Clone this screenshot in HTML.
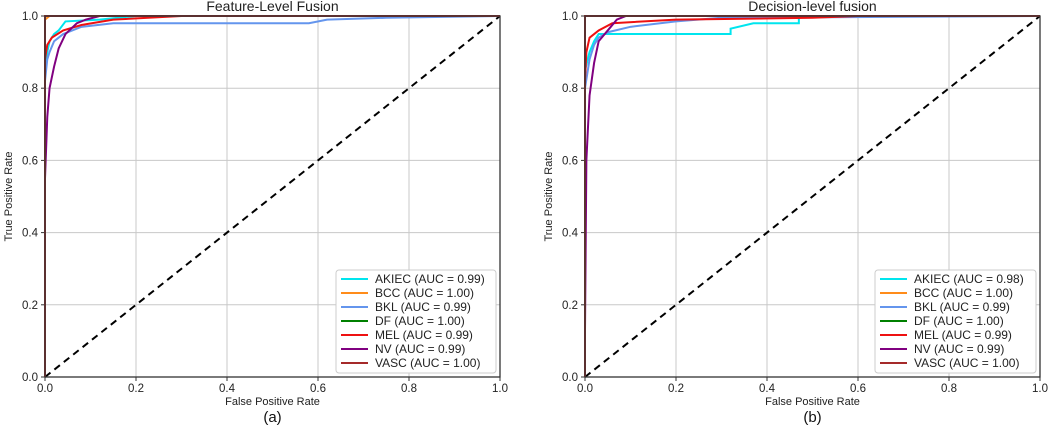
<!DOCTYPE html>
<html><head><meta charset="utf-8"><style>
body{margin:0;background:#fff;width:1049px;height:430px;overflow:hidden;font-family:"Liberation Sans",sans-serif}
svg text{font-family:"Liberation Sans",sans-serif}
</style></head><body>
<svg id="chart" width="1049" height="430" xmlns="http://www.w3.org/2000/svg"></svg>
<script>
const ticks=[0,0.2,0.4,0.6,0.8,1.0];
const tickLabels=["0.0","0.2","0.4","0.6","0.8","1.0"];
const classes=["AKIEC","BCC","BKL","DF","MEL","NV","VASC"];
const colors=["#00e5ee","#ff8c1a","#6495ed","#008000","#ee1111","#800080","#a52a2a"];
const aucA=["0.99","1.00","0.99","1.00","0.99","0.99","1.00"];
const aucB=["0.98","1.00","0.99","1.00","0.99","0.99","1.00"];
// curves [fpr,tpr]
const curvesA=[
 [[0,0],[0,0.85],[0.005,0.9],[0.01,0.93],[0.02,0.95],[0.03,0.96],[0.045,0.985],[0.12,0.99],[0.2,1],[1,1]],
 [[0,0],[0,0.99],[0.01,1],[1,1]],
 [[0,0],[0,0.82],[0.005,0.88],[0.01,0.9],[0.02,0.93],[0.04,0.95],[0.08,0.97],[0.15,0.98],[0.58,0.98],[0.62,0.99],[0.75,0.995],[1,1]],
 [[0,0],[0,1],[1,1]],
 [[0,0],[0,0.88],[0.005,0.92],[0.015,0.94],[0.04,0.96],[0.08,0.975],[0.15,0.99],[0.3,1],[1,1]],
 [[0,0],[0,0.55],[0.005,0.72],[0.01,0.8],[0.02,0.86],[0.03,0.91],[0.045,0.95],[0.07,0.98],[0.09,0.99],[0.12,1],[1,1]],
 [[0,0],[0,1],[1,1]]
];
const curvesB=[
 [[0,0],[0,0.85],[0.01,0.9],[0.02,0.93],[0.03,0.95],[0.32,0.95],[0.32,0.965],[0.37,0.98],[0.47,0.98],[0.47,1],[1,1]],
 [[0,0],[0,1],[1,1]],
 [[0,0],[0,0.8],[0.01,0.88],[0.02,0.92],[0.03,0.94],[0.05,0.955],[0.1,0.97],[0.2,0.985],[0.3,0.995],[1,1]],
 [[0,0],[0,1],[1,1]],
 [[0,0],[0,0.82],[0.003,0.9],[0.01,0.94],[0.03,0.96],[0.06,0.98],[0.2,0.99],[0.5,0.995],[0.6,1],[1,1]],
 [[0,0],[0,0.13],[0.003,0.6],[0.01,0.78],[0.02,0.87],[0.03,0.93],[0.05,0.96],[0.07,0.99],[0.09,1],[1,1]],
 [[0,0],[0,1],[1,1]]
];
const NS="http://www.w3.org/2000/svg";
const svg=document.getElementById('chart');
function mk(tag,attrs,parent){const e=document.createElementNS(NS,tag);for(const k in attrs)e.setAttribute(k,attrs[k]);(parent||svg).appendChild(e);return e;}
function panel(x0,x1,y0,y1,title,curves,aucs,lx,lw,tag,sub){
 const g=mk('g',{});
 
 
 const X=v=>x0+v*(x1-x0), Y=v=>y0-v*(y0-y1);
 ticks.forEach((t,i)=>{
  const gx=mk('line',{x1:X(t),x2:X(t),y1:y1,y2:y0,stroke:'#c8c8c8','stroke-width':1},g);
  
  const gy=mk('line',{x1:x0,x2:x1,y1:Y(t),y2:Y(t),stroke:'#c8c8c8','stroke-width':1},g);
  
  mk('line',{x1:X(t),x2:X(t),y1:y0,y2:y0+4,stroke:'#333'},g);
  mk('line',{x1:x0-4,x2:x0,y1:Y(t),y2:Y(t),stroke:'#333'},g);
  const tx=mk('text',{x:X(t),y:y0+15,'font-size':11.5,'text-anchor':'middle',fill:'#222'},g);tx.textContent=tickLabels[i];
  
  const ty=mk('text',{x:x0-7,y:Y(t)+4,'font-size':11.5,'text-anchor':'end',fill:'#222'},g);ty.textContent=tickLabels[i];
  
 });
 const d=mk('line',{x1:X(0),y1:Y(0),x2:X(1),y2:Y(1),stroke:'#000','stroke-width':2,'stroke-dasharray':'7,5'},g);
 
 curves.forEach((c,i)=>{
  const p=mk('polyline',{points:c.map(q=>X(q[0])+','+Y(q[1])).join(' '),fill:'none',stroke:colors[i],'stroke-width':2},g);
  
 });
 const fr=mk('rect',{x:x0,y:y1,width:x1-x0,height:y0-y1,fill:'none',stroke:'#333','stroke-width':1.3},g);
 
 const t=mk('text',{x:(x0+x1)/2,y:y1-5,'font-size':14,'text-anchor':'middle',fill:'#222'},g);t.textContent=title;
 
 const xl=mk('text',{x:(x0+x1)/2,y:y0+28,'font-size':11,'text-anchor':'middle',fill:'#222'},g);xl.textContent='False Positive Rate';
 
 const yl=mk('text',{x:0,y:0,'font-size':11,'text-anchor':'middle',fill:'#222',transform:`translate(${x0-33},${(y0+y1)/2}) rotate(-90)`},g);yl.textContent='True Positive Rate';
 
 const sl=mk('text',{x:(x0+x1)/2,y:422,'font-size':15,'text-anchor':'middle',fill:'#111'},g);sl.textContent=sub;
 
 const lg=mk('g',{},g);
 
 mk('rect',{x:lx,y:270,width:lw,height:103,fill:'#fff',stroke:'#ccc',rx:3},lg);
 classes.forEach((c,i)=>{
  const yy=279+i*14;
  const e=mk('g',{},lg);
  
  mk('line',{x1:lx+5,x2:lx+32,y1:yy,y2:yy,stroke:colors[i],'stroke-width':2},e);
  const tt=mk('text',{x:lx+39,y:yy+4,'font-size':12,fill:'#222'},e);tt.textContent=`${c} (AUC = ${aucs[i]})`;
 });
}
panel(45,500,377,16,'Feature-Level Fusion',curvesA,aucA,336,160,'a','(a)');
panel(585,1040,377,16,'Decision-level fusion',curvesB,aucB,875,161,'b','(b)');
</script>
</body></html>
